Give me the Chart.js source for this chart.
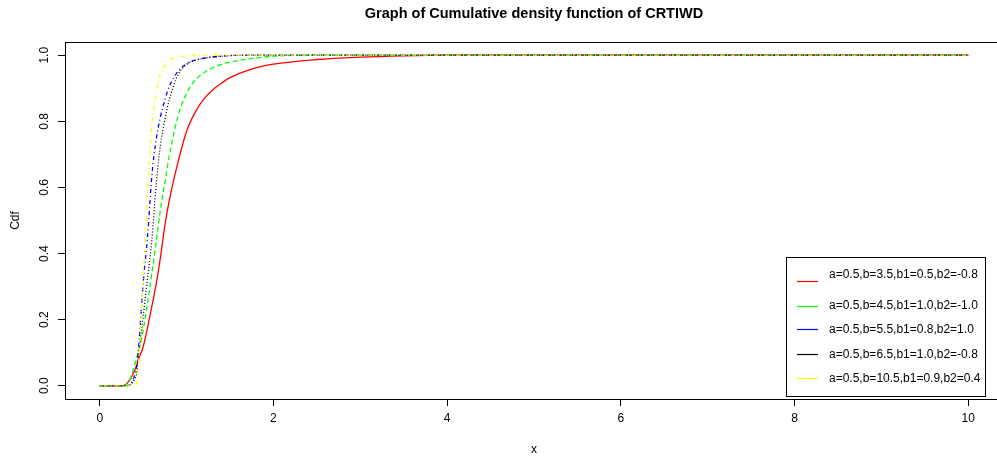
<!DOCTYPE html>
<html>
<head>
<meta charset="utf-8">
<title>CDF of CRTIWD</title>
<script src="https://cdn.jsdelivr.net/npm/chart.js@4.4.1/dist/chart.umd.min.js"></script>
<style>
  html, body { margin: 0; padding: 0; background: #fff; overflow: hidden; }
  #wrap { width: 1010px; height: 459px; }
</style>
</head>
<body>
<div id="wrap"><canvas id="cdfChart" width="1010" height="459"></canvas></div>
<script>
// Valores (x común a todas las series)
const xValues = [0, 0.25, 0.3, 0.35, 0.4, 0.425, 0.45, 0.5, 0.55, 0.6, 0.65, 0.7, 0.75, 0.8, 0.9,
  1.0, 1.1, 1.2, 1.3, 1.4, 1.5, 1.75, 2.0, 2.5, 3.0, 3.5, 4.0, 5.0, 6.0, 7.0, 8.0, 9.0, 10.0];

const cdfRed = [0, 0, 0.004, 0.02, 0.045, 0.062, 0.082, 0.118, 0.176, 0.24, 0.308, 0.39, 0.485, 0.56, 0.675,
  0.77, 0.828, 0.868, 0.895, 0.915, 0.932, 0.958, 0.973, 0.987, 0.994, 0.998, 1, 1, 1, 1, 1, 1, 1];

const cdfGreen = [0, 0, 0.002, 0.02, 0.062, 0.085, 0.106, 0.168, 0.25, 0.34, 0.435, 0.535, 0.615, 0.695, 0.815,
  0.885, 0.925, 0.947, 0.962, 0.972, 0.979, 0.99, 0.997, 1, 1, 1, 1, 1, 1, 1, 1, 1, 1];

const cdfBlue = [0, 0, 0, 0.004, 0.03, 0.06, 0.125, 0.31, 0.45, 0.635, 0.745, 0.815, 0.865, 0.905, 0.951,
  0.974, 0.985, 0.991, 0.995, 0.997, 0.999, 1, 1, 1, 1, 1, 1, 1, 1, 1, 1, 1, 1];

const cdfBlack = [0, 0, 0, 0.003, 0.02, 0.038, 0.1, 0.21, 0.325, 0.44, 0.61, 0.73, 0.805, 0.865, 0.94,
  0.972, 0.985, 0.991, 0.995, 0.997, 0.999, 1, 1, 1, 1, 1, 1, 1, 1, 1, 1, 1, 1];

const cdfYellow = [0, 0, 0, 0, 0, 0.005, 0.08, 0.33, 0.58, 0.79, 0.885, 0.945, 0.97, 0.985, 0.995,
  0.998, 1, 1, 1, 1, 1, 1, 1, 1, 1, 1, 1, 1, 1, 1, 1, 1, 1];

const seriesLabels = [
  'a=0.5,b=3.5,b1=0.5,b2=-0.8',
  'a=0.5,b=4.5,b1=1.0,b2=-1.0',
  'a=0.5,b=5.5,b1=0.8,b2=1.0',
  'a=0.5,b=6.5,b1=1.0,b2=-0.8',
  'a=0.5,b=10.5,b1=0.9,b2=0.4'
];
const seriesValues = [cdfRed, cdfGreen, cdfBlue, cdfBlack, cdfYellow];

const chartTitle = 'Graph of Cumulative density function of CRTIWD';
const xTitle = 'x';
const yTitle = 'Cdf';

const colors = ['#ff0000', '#00ff00', '#0000ff', '#000000', '#ffff00'];
const dashes = [[], [5, 3], [1, 3, 4, 3], [1, 2], [1, 3, 4, 3]];
const FONT = '"Liberation Sans", Arial, sans-serif';

// Caja, título y leyenda al estilo de R
const rStylePlugin = {
  id: 'rStyle',
  afterDraw(chart) {
    const { ctx, chartArea } = chart;
    ctx.save();
    ctx.strokeStyle = '#000';
    ctx.lineWidth = 1;
    ctx.strokeRect(chartArea.left + 0.5, chartArea.top + 0.5,
      chartArea.right - chartArea.left, chartArea.bottom - chartArea.top);

    // Título
    ctx.fillStyle = '#000';
    ctx.font = 'bold 14.5px ' + FONT;
    ctx.textAlign = 'center';
    ctx.textBaseline = 'middle';
    ctx.fillText(chartTitle, (chartArea.left + chartArea.right) / 2, 14);

    // Leyenda
    const box = { x: 786, y: 257, w: 199, h: 139 };
    ctx.fillStyle = '#fff';
    ctx.fillRect(box.x, box.y, box.w, box.h);
    ctx.strokeStyle = '#000';
    ctx.strokeRect(box.x + 0.5, box.y + 0.5, box.w, box.h);
    const lineYs = [281, 306, 329, 354, 378];
    const textYs = [275, 306, 330, 355, 379];
    ctx.font = '12px ' + FONT;
    ctx.textAlign = 'left';
    chart.data.datasets.forEach((ds, i) => {
      ctx.strokeStyle = ds.borderColor;
      ctx.lineWidth = 1.2;
      ctx.beginPath();
      ctx.moveTo(797, lineYs[i] + 0.5);
      ctx.lineTo(818, lineYs[i] + 0.5);
      ctx.stroke();
      ctx.fillStyle = '#000';
      ctx.fillText(ds.label, 829, textYs[i]);
    });
    ctx.restore();
  }
};

const ctx = document.getElementById('cdfChart').getContext('2d');
const cdfChart = new Chart(ctx, {
  type: 'line',
  data: {
    datasets: seriesValues.map((vals, i) => ({
      label: seriesLabels[i],
      data: xValues.map((x, j) => ({ x: x, y: vals[j] })),
      borderColor: colors[i],
      borderWidth: 1.3,
      borderDash: dashes[i],
      pointRadius: 0,
      fill: false,
      cubicInterpolationMode: 'monotone',
      order: seriesValues.length - i
    }))
  },
  options: {
    responsive: false,
    animation: false,
    layout: { padding: { top: 42, right: 7, left: 0, bottom: 0 } },
    plugins: {
      legend: { display: false },
      title: { display: false },
      tooltip: { enabled: false }
    },
    scales: {
      x: {
        type: 'linear',
        min: -0.4,
        max: 10.4,
        afterFit: (scale) => { scale.height = 60; },
        grid: { drawOnChartArea: false, drawTicks: true, tickLength: 7, color: '#000' },
        border: { display: false },
        ticks: {
          stepSize: 2,
          includeBounds: false,
          padding: 5,
          color: '#000',
          font: { family: FONT, size: 12 },
          maxRotation: 0,
          callback: (v) => String(v)
        },
        title: {
          display: true,
          text: xTitle,
          color: '#000',
          font: { family: FONT, size: 12 },
          padding: { top: 0, bottom: 2 }
        }
      },
      y: {
        type: 'linear',
        min: -0.04,
        max: 1.04,
        afterFit: (scale) => { scale.width = 65; },
        grid: { drawOnChartArea: false, drawTicks: true, tickLength: 7, color: '#000' },
        border: { display: false },
        ticks: {
          stepSize: 0.2,
          includeBounds: false,
          padding: 5,
          crossAlign: 'center',
          minRotation: 90,
          maxRotation: 90,
          color: '#000',
          font: { family: FONT, size: 12 },
          callback: (v) => v.toFixed(1)
        },
        title: {
          display: true,
          text: yTitle,
          color: '#000',
          font: { family: FONT, size: 12 },
          padding: { top: 8, bottom: 0 }
        }
      }
    }
  },
  plugins: [rStylePlugin]
});
</script>
</body>
</html>
